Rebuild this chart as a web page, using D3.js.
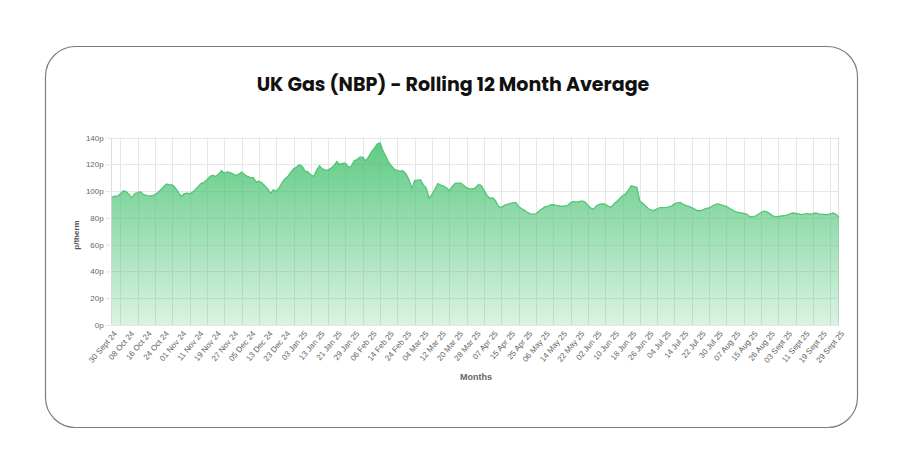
<!DOCTYPE html>
<html>
<head>
<meta charset="utf-8">
<script src="https://cdn.jsdelivr.net/npm/d3@7"></script>
<style>
  body { margin: 0; background: #fff; }
  svg { display: block; }
</style>
</head>
<body>
<script>
const title = 'UK Gas (NBP) - Rolling 12 Month Average'

// every 6th trading day gets a label
const tickLabels = [
  '30 Sept 24', '08 Oct 24', '16 Oct 24', '24 Oct 24', '01 Nov 24', '11 Nov 24',
  '19 Nov 24', '27 Nov 24', '05 Dec 24', '13 Dec 24', '23 Dec 24', '03 Jan 25',
  '13 Jan 25', '21 Jan 25', '29 Jan 25', '06 Feb 25', '14 Feb 25', '24 Feb 25',
  '04 Mar 25', '12 Mar 25', '20 Mar 25', '28 Mar 25', '07 Apr 25', '15 Apr 25',
  '25 Apr 25', '06 May 25', '14 May 25', '22 May 25', '02 Jun 25', '10 Jun 25',
  '18 Jun 25', '26 Jun 25', '04 Jul 25', '14 Jul 25', '22 Jul 25', '30 Jul 25',
  '07 Aug 25', '15 Aug 25', '26 Aug 25', '03 Sept 25', '11 Sept 25', '19 Sept 25',
  '29 Sept 25'
]
const labelStep = 6

// p/therm, one value per trading day
const values = [
  95.3, 96.2, 96.1, 98, 100, 99.6, 97.5, 95, 98.2, 98.8,
  99.5, 97.3, 96.8, 96.2, 96.5, 97.4, 99, 101, 103.2, 105.3,
  104.6, 104.6, 102.5, 99.5, 96, 97.7, 98.4, 98, 99.2, 101,
  103.5, 105.8, 106.4, 108.5, 110.8, 111.8, 110.8, 112.5, 115.2, 113.3,
  114.3, 113.8, 112.8, 111.7, 112.5, 114.2, 112.3, 111, 110.2, 110,
  106.8, 107.3, 106.2, 104, 101.8, 98.3, 101, 99.8, 102.5, 106.2,
  109, 110.8, 114, 116.5, 118, 119.7, 118.5, 114.9, 114.4, 112,
  111, 115.5, 118.8, 116.5, 115.8, 115.7, 117.3, 119, 122, 119.9,
  120.6, 120.8, 117.8, 118.5, 122.7, 123.5, 125.3, 125.3, 122.5, 125.5,
  129.3, 132, 135.2, 136, 130, 126, 121.4, 118.5, 116.2, 115.2,
  115, 115, 112.8, 108.4, 102.2, 108, 108.2, 108.5, 104.6, 102.2,
  94.8, 97.5, 101.5, 105.5, 104.5, 103.8, 102.5, 100.2, 103.5, 105.7,
  106, 106, 104.2, 102.3, 101.8, 101.6, 102.3, 104.8, 104.3, 100.5,
  97, 94.5, 95, 92.8, 88.5, 87.8, 89.3, 90, 90.6, 91.2,
  91.5, 88.5, 87, 85.6, 84.2, 83, 82.8, 83, 85, 86.5,
  88.2, 88.5, 89.7, 89.8, 89.3, 89, 88.5, 89, 89.2, 91.5,
  92.3, 91.8, 92.2, 92.6, 91.8, 89.5, 87.2, 86.4, 89, 90,
  90.5, 90.2, 88.7, 87.8, 90.4, 92.2, 94.3, 96.5, 97.8, 100.5,
  104, 103.3, 102.6, 92.5, 90.9, 88.8, 86.8, 85.7, 85.5, 86.8,
  87.6, 87.6, 87.7, 88.2, 88.8, 90.5, 91.2, 91.5, 90.1, 89.2,
  88.5, 87.7, 86.5, 85.3, 85.3, 86.1, 87, 87.5, 88.7, 89.8,
  90.4, 89.8, 89.1, 88.6, 87.2, 86, 84.7, 84, 83.7, 83.4,
  82.8, 81, 80.7, 81.2, 82.7, 84, 85, 84.4, 83.2, 81.5,
  80.8, 81, 81.4, 81.7, 82, 83, 83.6, 83.3, 83, 82.4,
  82.8, 83.2, 82.7, 83.1, 83.6, 83, 82.7, 82.5, 82.4, 83,
  83.6, 82.6, 80.2
]

const yTicks = [0, 20, 40, 60, 80, 100, 120, 140]

const width = 900
const height = 471
const plotLeft = 111.7
const plotRight = 839
const plotTop = 137.5
const plotBottom = 325
const tickFont = "'Helvetica Neue', Helvetica, Arial, sans-serif"
const gridColor = '#e6e6e6'

const svg = d3.select('body')
  .append('svg')
  .attr('width', width)
  .attr('height', height)

// card
svg.append('rect')
  .attr('x', 45.5)
  .attr('y', 46.5)
  .attr('width', 812)
  .attr('height', 381)
  .attr('rx', 30)
  .attr('fill', '#fff')
  .attr('stroke', '#7d7d7d')
  .attr('stroke-width', 1.2)

const titleText = svg.append('text')
  .attr('x', 453)
  .attr('y', 91)
  .attr('text-anchor', 'middle')
  .attr('font-family', 'Poppins, Inter, sans-serif')
  .attr('font-weight', 700)
  .attr('font-size', 20)
  .attr('fill', '#111')
  .text(title)
const tw = titleText.node().getComputedTextLength()
titleText.attr('font-size', 20 * 393 / tw)

const x = d3.scaleLinear()
  .domain([0, values.length - 1])
  .range([plotLeft, plotRight])

const y = d3.scaleLinear()
  .domain([0, 140])
  .range([plotBottom, plotTop])

// grid
const grid = svg.append('g')
grid.selectAll('line.h')
  .data(yTicks)
  .enter()
  .append('line')
  .attr('x1', plotLeft)
  .attr('x2', plotRight)
  .attr('y1', d => Math.round(y(d)) + 0.5)
  .attr('y2', d => Math.round(y(d)) + 0.5)
  .attr('stroke', gridColor)

// vertical lines sit between the labelled ticks
const vIdx = d3.range(labelStep / 2, values.length - 1, labelStep)
grid.selectAll('line.v')
  .data(vIdx)
  .enter()
  .append('line')
  .attr('x1', d => Math.round(x(d)) + 0.5)
  .attr('x2', d => Math.round(x(d)) + 0.5)
  .attr('y1', plotTop)
  .attr('y2', plotBottom)
  .attr('stroke', gridColor)

grid.selectAll('line.edge')
  .data([plotLeft, plotRight])
  .enter()
  .append('line')
  .attr('x1', d => Math.round(d) - 0.5)
  .attr('x2', d => Math.round(d) - 0.5)
  .attr('y1', plotTop)
  .attr('y2', plotBottom)
  .attr('stroke', '#dedede')

// gradient fill
const grad = svg.append('defs')
  .append('linearGradient')
  .attr('id', 'fillGrad')
  .attr('gradientUnits', 'userSpaceOnUse')
  .attr('x1', 0).attr('x2', 0)
  .attr('y1', plotTop).attr('y2', plotBottom)
grad.append('stop').attr('offset', 0).attr('stop-color', 'rgb(72,194,113)').attr('stop-opacity', 0.88)
grad.append('stop').attr('offset', 1).attr('stop-color', 'rgb(72,194,113)').attr('stop-opacity', 0.2)

const area = d3.area()
  .x((d, i) => x(i))
  .y0(plotBottom)
  .y1(d => y(d))

const line = d3.line()
  .x((d, i) => x(i))
  .y(d => y(d))

svg.append('path')
  .datum(values)
  .attr('d', area)
  .attr('fill', 'url(#fillGrad)')

svg.append('path')
  .datum(values)
  .attr('d', line)
  .attr('fill', 'none')
  .attr('stroke', 'rgb(80,198,120)')
  .attr('stroke-width', 1.3)

// y axis
const yAxis = svg.append('g')
  .attr('transform', `translate(${plotLeft},0)`)
  .call(d3.axisLeft(y)
    .tickValues(yTicks)
    .tickSize(6)
    .tickPadding(2)
    .tickFormat(d => d + 'p'))
yAxis.select('.domain').remove()
yAxis.selectAll('line').attr('stroke', gridColor)
yAxis.selectAll('text')
  .attr('font-family', tickFont)
  .attr('font-size', 8)
  .attr('fill', '#666')

// x axis
const xAxis = svg.append('g')
  .attr('transform', `translate(0,${plotBottom})`)
  .call(d3.axisBottom(x)
    .tickValues(d3.range(0, values.length, labelStep))
    .tickSize(0)
    .tickFormat(i => tickLabels[i / labelStep]))
xAxis.select('.domain').remove()
xAxis.selectAll('text')
  .attr('font-family', tickFont)
  .attr('font-size', 8)
  .attr('fill', '#666')
  .attr('text-anchor', 'end')
  .attr('y', 0)
  .attr('dy', '0.35em')
  .attr('transform', 'translate(3,7) rotate(-50)')

svg.append('text')
  .attr('transform', 'translate(79,235) rotate(-90)')
  .attr('text-anchor', 'middle')
  .attr('font-family', tickFont)
  .attr('font-weight', 700)
  .attr('font-size', 8)
  .attr('fill', '#555')
  .text('p/therm')

svg.append('text')
  .attr('x', 476)
  .attr('y', 380)
  .attr('text-anchor', 'middle')
  .attr('font-family', tickFont)
  .attr('font-weight', 700)
  .attr('font-size', 9)
  .attr('fill', '#666')
  .text('Months')
</script>
</body>
</html>
